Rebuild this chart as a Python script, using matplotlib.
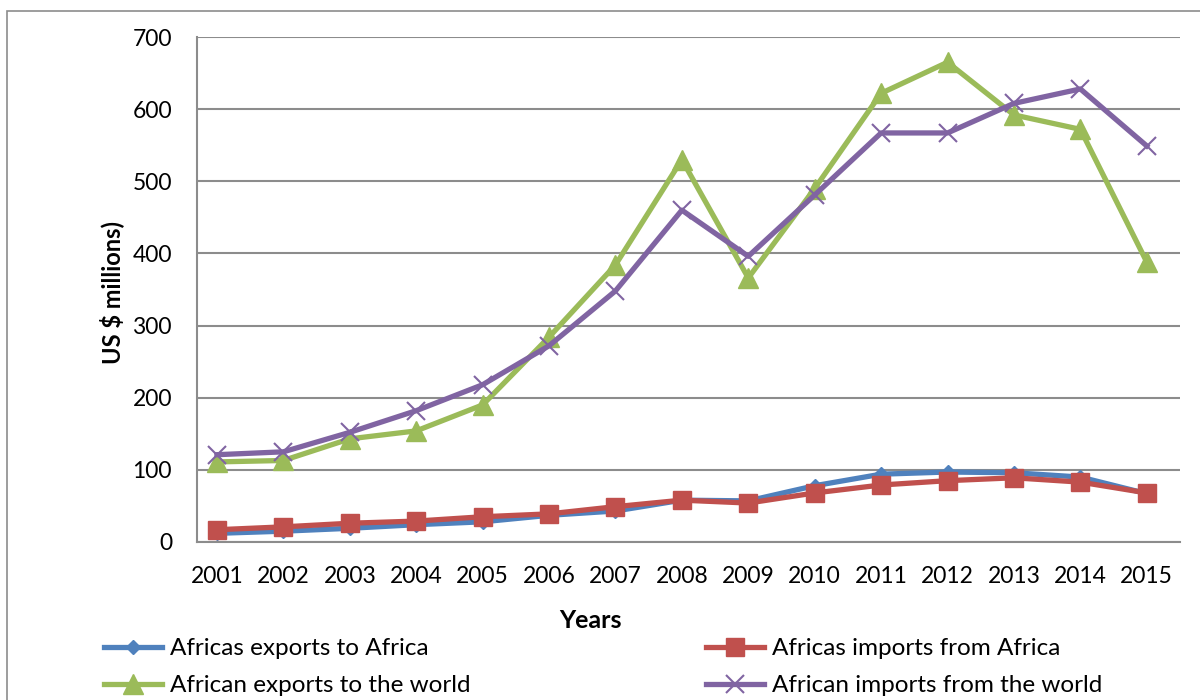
import matplotlib
matplotlib.use("Agg")
import matplotlib.pyplot as plt
from matplotlib.patches import Rectangle

plt.rcParams['font.family'] = ['Lato', 'DejaVu Sans']

years = [2001, 2002, 2003, 2004, 2005, 2006, 2007, 2008, 2009, 2010, 2011, 2012, 2013, 2014, 2015]
exports_africa = [12, 15, 19, 24, 28, 37, 43, 58, 57, 78, 94, 97, 96, 90, 67]
imports_africa = [17, 21, 26, 29, 35, 39, 49, 58, 54, 68, 79, 85, 89, 83, 68]
exports_world = [111, 113, 143, 154, 190, 284, 384, 530, 366, 490, 622, 665, 592, 572, 388]
imports_world = [121, 125, 152, 182, 218, 272, 348, 460, 396, 481, 567, 567, 608, 628, 549]

labels = ["Africas exports to Africa", "Africas imports from Africa",
          "African exports to the world", "African imports from the world"]
colors = ["#4F81BD", "#C0504D", "#9BBB59", "#8064A2"]

fig = plt.figure(figsize=(12, 7), dpi=100)
ax = fig.add_axes([197/1200, 1-542/700, (1180-197)/1200, (542-37)/700])

lw = 3.8
h0, = ax.plot(years, exports_africa, color=colors[0], lw=lw, marker='D', ms=7, label=labels[0], zorder=3)
h1, = ax.plot(years, imports_africa, color=colors[1], lw=lw, marker='s', ms=13, label=labels[1], zorder=4)
h2, = ax.plot(years, exports_world, color=colors[2], lw=lw, marker='^', ms=15, label=labels[2], zorder=5)
h3, = ax.plot(years, imports_world, color=colors[3], lw=lw, marker='x', ms=13, mew=1.5, label=labels[3], zorder=6)

ax.set_xlim(2000.7, 2015.5)
ax.set_ylim(0, 700)
ax.set_xticks(years)
ax.set_xticklabels([str(y) for y in years])
ax.set_yticks(range(0, 701, 100))
ax.yaxis.grid(True, color='#8C8C8C', lw=1.5)
ax.set_axisbelow(True)
for s in ['top', 'right']:
    ax.spines[s].set_visible(False)
for s in ['left', 'bottom']:
    ax.spines[s].set_color('#8C8C8C')
    ax.spines[s].set_linewidth(1.5)
ax.tick_params(axis='both', length=0, labelsize=16.5, colors='black')
ax.tick_params(axis='y', pad=18)
ax.tick_params(axis='x', pad=17)

fig.text(112/1200, 1-292/700, "US $ millions)", rotation=90, ha='center', va='center',
         fontsize=17, fontweight='bold')
fig.text(590/1200, 1-620/700, "Years", ha='center', va='center', fontsize=18, fontweight='bold')

leg = fig.legend([h0, h2, h1, h3], [labels[0], labels[2], labels[1], labels[3]],
                 loc='upper left', bbox_to_anchor=(104/1200, 1-638/700), ncol=2, frameon=False,
                 fontsize=17.5, handlelength=2.4, handletextpad=0.3, columnspacing=9.7,
                 labelspacing=0.66, borderaxespad=0, borderpad=0)

fig.add_artist(Rectangle((7/1200, -0.1), 1.2, 1-11/700+0.1, transform=fig.transFigure,
                         fill=False, edgecolor='#8C8C8C', lw=1.2))

fig.savefig("out.png", dpi=100)
